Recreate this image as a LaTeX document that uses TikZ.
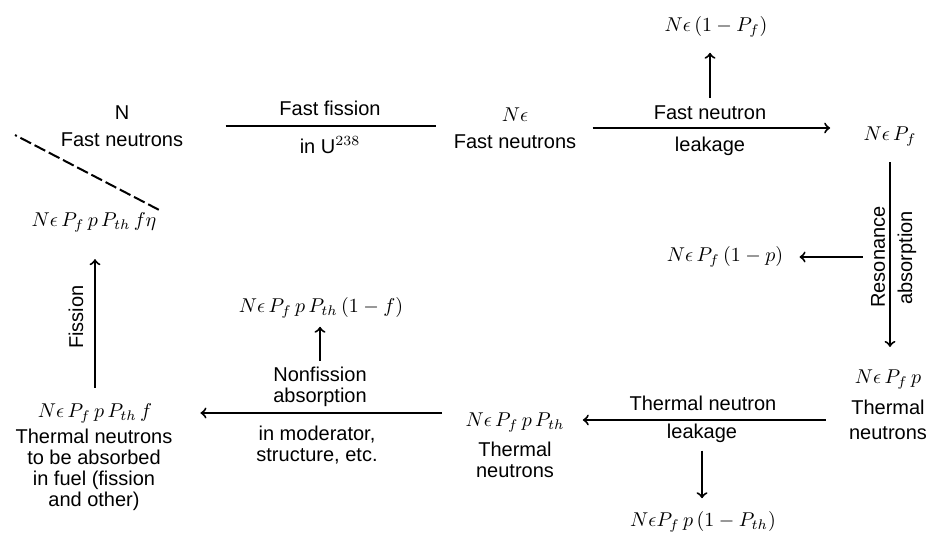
\documentclass[tikz,border=0pt]{standalone}
\usepackage{amsmath}
\usepackage{fontspec}
\setmainfont{Liberation Sans}
\usepackage{tikz}

\begin{document}
\begin{tikzpicture}[x=0.5pt, y=-0.5pt,
  txt/.style={font=\fontsize{10}{10.5}\selectfont, align=center, inner sep=1pt},
  link/.style={line width=1pt},
  flow/.style={->, line width=1pt}]
\useasboundingbox (0,0) rectangle (931,534);

% Fast neutrons row
\node[txt] (fast) at (122,126) {N\\[3pt]Fast neutrons};
\node[txt] (ne) at (515,128) {$N\epsilon$\\[3pt]Fast neutrons};
\node[txt] (nepf) at (890,137) {$N\epsilon\,P_f$};
\node[txt] (leakf) at (716,27) {$N\epsilon\,(1-P_f)$};

\node[txt] (ffa) at (330,108) {Fast fission};
\node[txt] (ffb) at (330,145) {in U$^{238}$};
\node[txt] (fla) at (710,113) {Fast neutron};
\node[txt] (flb) at (710,146) {leakage};

\draw[link, shorten <=20pt, shorten >=7.5pt] (fast.east) -- (fast.east -| ne.west);
\draw[flow, shorten <=7pt, shorten >=15.5pt] (ne.east) -- (ne.east -| nepf.west);
\draw[flow, shorten <=3pt, shorten >=6.5pt] (fla.north) -- (fla.north |- leakf.south);

% Resonance absorption
\node[txt] (nepfp) at (888,380) {$N\epsilon\,P_f\,p$};
\node[txt] (nepfpd) at (888,420) {Thermal\\[2pt]neutrons};
\node[txt] (resab) at (725,257) {$N\epsilon\,P_f\,(1-p)$};
\node[txt, rotate=90] (rla) at (878,257) {Resonance};
\node[txt, rotate=90] (rlb) at (907,258) {absorption};

\draw[flow, shorten <=6.5pt, shorten >=10.5pt] (nepf.south) -- (nepf.south |- nepfp.north);
\draw[flow, shorten <=3pt, shorten >=7pt] (rla.north) -- (rla.north -| resab.east);

% Thermal leakage
\node[txt] (nth) at (515,423) {$N\epsilon\,P_f\,p\,P_{th}$};
\node[txt] (nthd) at (515,460) {Thermal\\neutrons};
\node[txt] (tla) at (703,403) {Thermal neutron};
\node[txt] (tlb) at (702,433) {leakage};
\node[txt] (leakth) at (703,522) {$N\epsilon P_f\,p\,(1-P_{th})$};

\draw[flow, shorten <=10.5pt, shorten >=8pt] (nepfpd.west) -- (nepfpd.west -| nth.east);
\draw[flow, shorten <=3pt, shorten >=5.5pt] (tlb.south) -- (tlb.south |- leakth.north);

% Nonfission absorption
\node[txt] (fuelm) at (95,413) {$N\epsilon\,P_f\,p\,P_{th}\,f$};
\node[txt] (fueld) at (94,470) {Thermal neutrons\\to be absorbed\\in fuel (fission\\and other)};
\node[txt] (nfa) at (320,387) {Nonfission\\absorption};
\node[txt] (nfb) at (317,445) {in moderator,\\structure, etc.};
\node[txt] (nonf) at (321,308) {$N\epsilon\,P_f\,p\,P_{th}\,(1-f)$};

\draw[flow, shorten <=10.5pt, shorten >=23pt] (fuelm.east -| nth.west) -- (fuelm.east);
\draw[flow, shorten <=2pt, shorten >=3pt] (nfa.north) -- (nfa.north |- nonf.south);

% Fission and back to N
\node[txt] (eta) at (94,222) {$N\epsilon\,P_f\,p\,P_{th}\,f\eta$};
\node[txt, rotate=90] (fis) at (76,317) {Fission};
\coordinate (loop) at (15,135);

\draw[flow, shorten <=6.5pt, shorten >=12.5pt] (fuelm.north) -- (fuelm.north |- eta.south);
\draw[link, dash pattern=on 6pt off 2pt] (eta.north east) -- (loop);

\end{tikzpicture}
\end{document}
